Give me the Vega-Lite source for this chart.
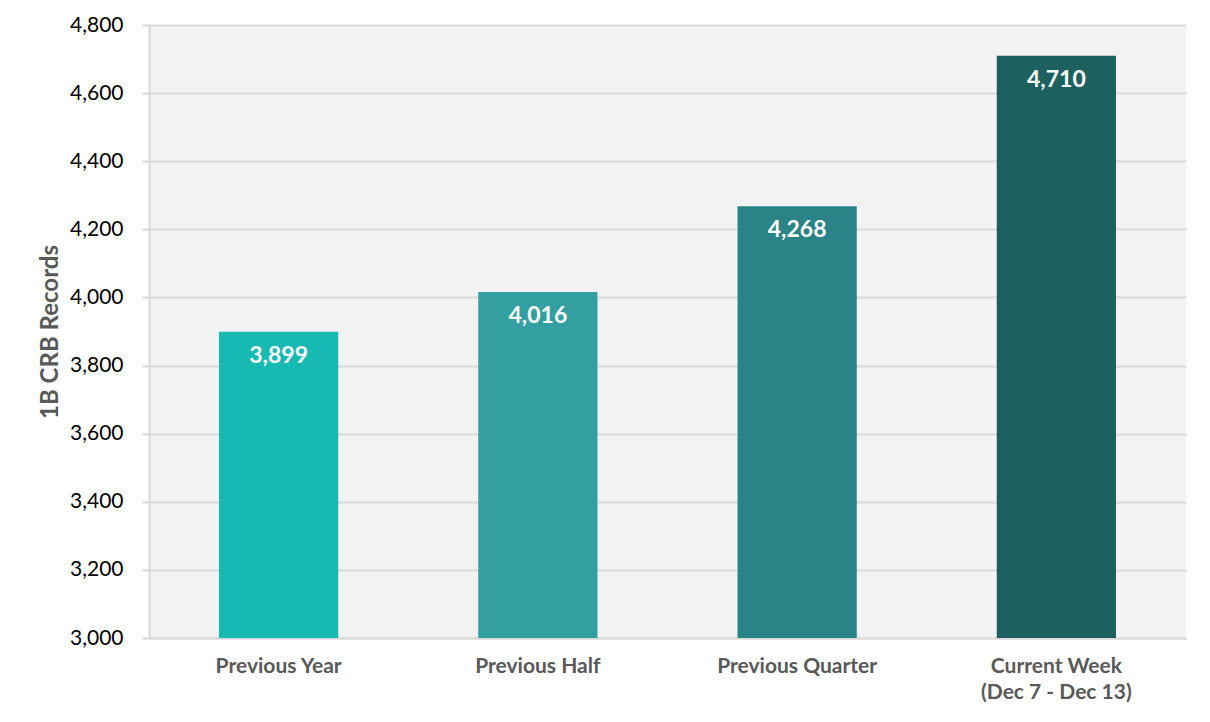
{
  "$schema": "https://vega.github.io/schema/vega-lite/v6.json",
  "autosize": {"type": "none"},
  "padding": {"left": 149, "top": 25, "right": 24, "bottom": 84},
  "width": 1037,
  "height": 613,
  "background": "white",
  "view": {"fill": "#f2f2f2", "stroke": null},
  "data": {"values": [
    {"period": "Previous Year", "records": 3899, "color": "#17bab2"},
    {"period": "Previous Half", "records": 4016, "color": "#339fa1"},
    {"period": "Previous Quarter", "records": 4268, "color": "#2a8387"},
    {"period": "Current Week (Dec 7 - Dec 13)", "records": 4710, "color": "#1c6160"}
  ]},
  "encoding": {
    "x": {
      "field": "period", "type": "nominal", "sort": null,
      "scale": {"paddingInner": 0.54, "paddingOuter": 0.27},
      "axis": {
        "title": null, "labelAngle": 0,
        "labelExpr": "datum.value == 'Current Week (Dec 7 - Dec 13)' ? ['Current Week', '(Dec 7 - Dec 13)'] : datum.value",
        "labelFont": "Lato", "labelFontWeight": "bold", "labelFontSize": 21,
        "labelColor": "#595959", "labelPadding": 17, "labelLineHeight": 26,
        "ticks": false, "domainColor": "#d9d9d9", "domainWidth": 2
      }
    },
    "y": {
      "field": "records", "type": "quantitative",
      "scale": {"domain": [3000, 4800], "zero": false, "nice": false},
      "axis": {
        "title": "1B CRB Records", "titleFont": "Lato", "titleFontSize": 24,
        "titleFontWeight": "bold", "titleColor": "#595959", "titlePadding": 7,
        "values": [3000, 3200, 3400, 3600, 3800, 4000, 4200, 4400, 4600, 4800],
        "format": ",d", "labelFont": "Lato", "labelFontSize": 21, "labelColor": "#000000",
        "labelPadding": 19, "tickSize": 7, "tickColor": "#d9d9d9", "tickWidth": 2,
        "gridColor": "#d9d9d9", "gridWidth": 2, "domainColor": "#d9d9d9", "domainWidth": 2
      }
    }
  },
  "layer": [
    {
      "mark": {"type": "bar"},
      "encoding": {
        "y2": {"datum": 3000},
        "color": {"field": "color", "type": "nominal", "scale": null}
      }
    },
    {
      "mark": {"type": "text", "baseline": "middle", "dy": 24, "font": "Lato", "fontWeight": "bold", "fontSize": 23, "color": "white"},
      "encoding": {
        "text": {"field": "records", "type": "quantitative", "format": ","}
      }
    }
  ]
}
